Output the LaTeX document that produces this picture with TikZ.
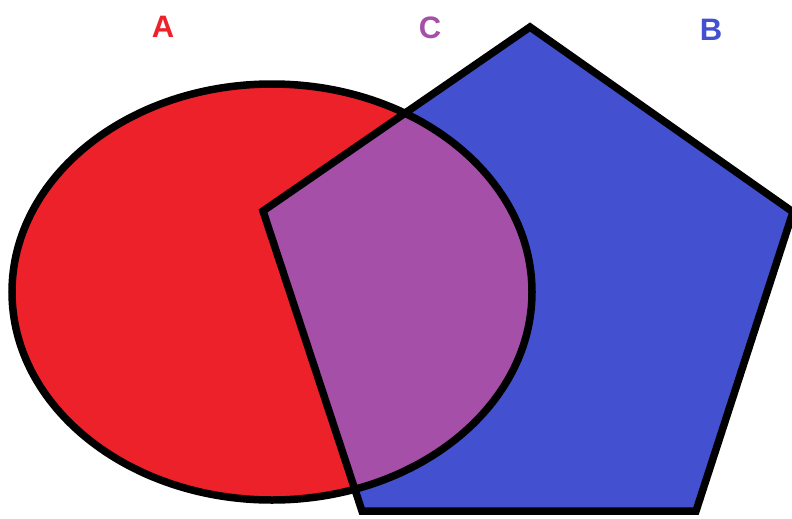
\documentclass[tikz,border=0pt]{standalone}
\usepackage{fontspec}
\setmainfont{Liberation Sans}
\definecolor{cred}{HTML}{ED2129}
\definecolor{cblue}{HTML}{4350CF}
\definecolor{cpurple}{HTML}{A54FA8}
\tikzset{lbl/.style={font=\bfseries\fontsize{31}{31}\selectfont}}
\begin{document}
\begin{tikzpicture}[x=1pt,y=-1pt]
\useasboundingbox (0,0) rectangle (792,519);
\def\pent{(530,27) -- (793,212) -- (696,511) -- (362,511) -- (263,211) -- cycle}
\fill[cred] (272,292) ellipse [x radius=260, y radius=208];
\fill[cblue] \pent;
\begin{scope}
\clip (272,292) ellipse [x radius=260, y radius=208];
\fill[cpurple] \pent;
\end{scope}
\draw[line width=7.5pt, line join=miter] \pent;
\draw[line width=7.5pt] (272,292) ellipse [x radius=260, y radius=208];
\node[lbl, text=cred] (A) at (163,27) {A};
\node[lbl, text=cpurple] (C) at (430,28) {C};
\node[lbl, text=cblue] (B) at (711,30) {B};
\end{tikzpicture}
\end{document}
